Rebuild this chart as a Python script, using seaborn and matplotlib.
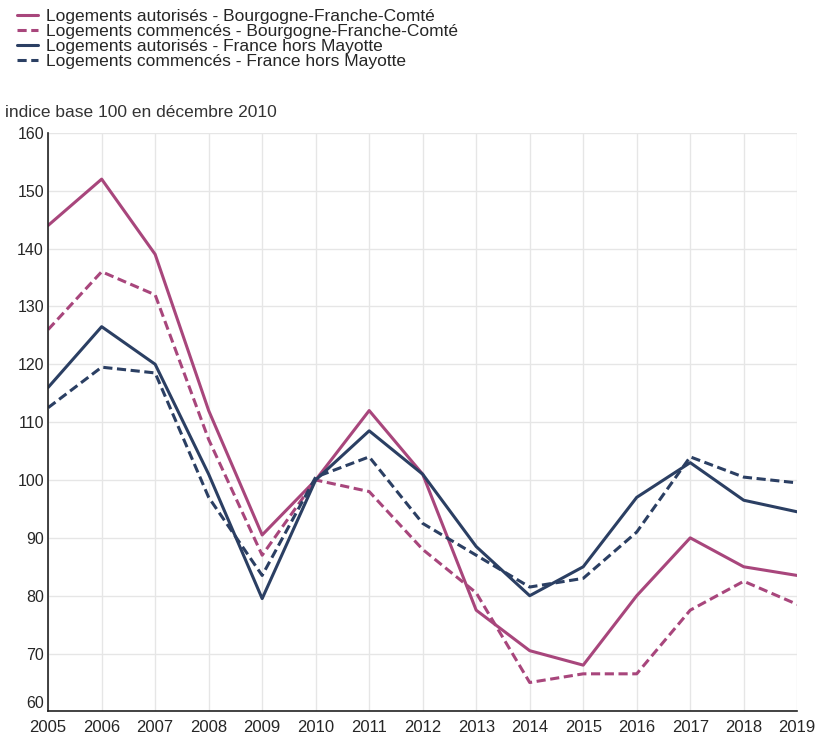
import numpy as np
import pandas as pd
import matplotlib
matplotlib.use("Agg")
import matplotlib.pyplot as plt
import seaborn as sns

# Data (index base 100 in Dec 2010)
years = list(range(2005, 2020))
bfc_autorises = [144, 152, 139, 112, 90.5, 100, 112, 101, 77.5, 70.5, 68, 80, 90, 85, 83.5]
bfc_commences = [126, 136, 132, 107, 87, 100, 98, 88, 80.5, 65, 66.5, 66.5, 77.5, 82.5, 78.5]
fr_autorises = [116, 126.5, 120, 101, 79.5, 100, 108.5, 101, 88.5, 80, 85, 97, 103, 96.5, 94.5]
fr_commences = [112.5, 119.5, 118.5, 97, 83.5, 100.5, 104, 92.5, 87, 81.5, 83, 91, 104, 100.5, 99.5]

series_names = [
    "Logements autorisés - Bourgogne-Franche-Comté",
    "Logements commencés - Bourgogne-Franche-Comté",
    "Logements autorisés - France hors Mayotte",
    "Logements commencés - France hors Mayotte",
]
series_values = [bfc_autorises, bfc_commences, fr_autorises, fr_commences]

rows = []
for name, vals in zip(series_names, series_values):
    for yr, v in zip(years, vals):
        rows.append({"annee": yr, "indice": v, "serie": name})
df = pd.DataFrame(rows)

pink = "#a8467c"
navy = "#2b3f63"
palette = dict(zip(series_names, [pink, pink, navy, navy]))
dashes = dict(zip(series_names, ["", (3, 1.5), "", (3, 1.5)]))

sns.set_style("white")
plt.rcParams["font.family"] = ["Liberation Sans", "DejaVu Sans"]

fig = plt.figure(figsize=(8.16, 7.38), dpi=100)
ax = fig.add_axes([0.059, 0.036, 0.918, 0.784])

sns.lineplot(data=df, x="annee", y="indice", hue="serie", style="serie",
             palette=palette, dashes=dashes, linewidth=2.2, ax=ax, legend=True)

ax.set_xlim(2005, 2019)
ax.set_ylim(60, 160)
ax.set_xticks(years)
ax.set_yticks(range(60, 161, 10))
ax.tick_params(axis="y", labelsize=11.5, length=0, pad=3)
ax.tick_params(axis="x", labelsize=12, length=0, pad=6)
ax.grid(True, color="#e6e6e6", linewidth=1)
ax.set_axisbelow(True)
ax.set_xlabel("")
ax.set_ylabel("")
for s in ["top", "right"]:
    ax.spines[s].set_visible(False)
for s in ["left", "bottom"]:
    ax.spines[s].set_color("#222222")
    ax.spines[s].set_linewidth(1.2)

# lift the lowest y label a bit so it clears the 2005 label
ax.get_yticklabels()[0].set_va("bottom")

handles, labels = ax.get_legend_handles_labels()
ax.legend_.remove()
fig.legend(handles, labels, loc="upper left", bbox_to_anchor=(0.01, 1.0),
           frameon=False, fontsize=12.5, labelspacing=0.0, handlelength=1.2,
           handletextpad=0.5, borderaxespad=0.2, borderpad=0.3)

fig.text(0.006, 0.848, "indice base 100 en décembre 2010", fontsize=12.5,
         color="#333333", va="center")

fig.savefig("out.png", dpi=100)
